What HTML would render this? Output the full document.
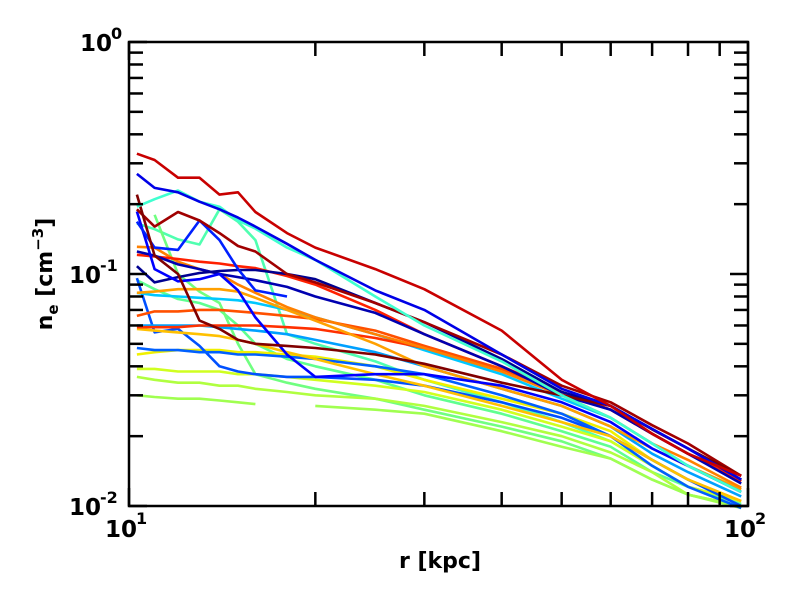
<!DOCTYPE html>
<html><head><meta charset="utf-8"><style>
body{margin:0;background:#fff;}
svg{display:block;font-family:"DejaVu Sans","Liberation Sans",sans-serif;font-weight:bold;}
</style></head><body>
<svg id="chart" width="800" height="600">
<g id="lines"></g>
<g id="axes"></g>
</svg>
<script>
const radii = [10.3,11,12,13,14,15,16,18,20,25,30,40,50,60,70,80,97.5];
const seriesNames = ["l1","l2","l3","l4","l5","l6","l7","l8","l9","l10","l11","l12","l13","l14","l15","l16","l17","l18","l19","l20","l21a","l21b","l22","l23","l24","l25","l26"];
const seriesColors = ["#c80000","#0000e6","#40ffd0","#800000","#a00000","#0020ff","#0000ff","#000090","#0000b0","#ff2000","#ff8000","#ffa000","#ff5000","#ff3000","#00a0ff","#00c8ff","#ffc000","#0060ff","#0050ff","#f0f000","#a0ff50","#a0ff50","#d0ff20","#b0ff40","#70ff80","#50ffb0","#60ff90"];
const s1 = [0.33,0.31,0.26,0.26,0.22,0.225,0.185,0.15,0.13,0.105,0.086,0.057,0.035,0.027,0.0205,0.0168,0.0135];
const s2 = [0.27,0.235,0.225,0.205,0.19,0.175,0.16,0.135,0.115,0.085,0.07,0.045,0.032,0.027,0.0215,0.0177,0.013];
const s3 = [0.195,0.21,0.229,0.205,0.195,0.17,0.157,0.13,0.115,0.08,0.06,0.042,0.03,0.024,0.0186,0.0149,0.0115];
const s4 = [0.22,0.12,0.1,0.063,0.058,0.052,0.05,0.049,0.048,0.045,0.041,0.034,0.03,0.027,0.0214,0.0177,0.0135];
const s5 = [0.19,0.16,0.185,0.17,0.15,0.132,0.125,0.1,0.092,0.075,0.062,0.045,0.033,0.028,0.0223,0.0186,0.0135];
const s6 = [0.168,0.13,0.127,0.17,0.14,0.105,0.085,0.08,null,null,null,null,null,null,null,null,null];
const s7 = [0.186,0.105,0.093,0.095,0.1,0.085,0.065,0.045,0.036,0.037,0.037,0.033,0.028,0.023,0.0177,0.0149,0.0115];
const s8 = [0.108,0.092,0.097,0.101,0.103,0.104,0.104,0.1,0.095,0.075,0.062,0.043,0.031,0.027,0.0214,0.0177,0.013];
const s9 = [0.125,0.12,0.11,0.105,0.1,0.097,0.094,0.088,0.08,0.068,0.055,0.04,0.03,0.026,0.0205,0.0168,0.0125];
const s10 = [0.121,0.119,0.116,0.113,0.111,0.108,0.106,0.098,0.09,0.07,0.055,0.04,0.031,0.026,0.0205,0.0168,0.0128];
const s11 = [0.131,0.13,0.113,0.105,0.1,0.09,0.083,0.072,0.065,0.055,0.048,0.038,0.03,0.024,0.0186,0.0158,0.012];
const s12 = [0.083,0.084,0.086,0.086,0.086,0.084,0.079,0.07,0.063,0.05,0.04,0.032,0.027,0.022,0.0177,0.0149,0.0118];
const s13 = [0.066,0.069,0.069,0.07,0.07,0.069,0.068,0.066,0.064,0.057,0.049,0.039,0.031,0.026,0.0205,0.0168,0.0128];
const s14 = [0.059,0.059,0.059,0.06,0.06,0.06,0.06,0.059,0.058,0.053,0.048,0.039,0.031,0.026,0.0205,0.0168,0.0128];
const s15 = [0.06,0.06,0.06,0.06,0.059,0.058,0.057,0.055,0.052,0.046,0.04,0.032,0.027,0.022,0.0168,0.014,0.011];
const s16 = [0.083,0.081,0.08,0.079,0.078,0.077,0.075,0.07,0.065,0.055,0.047,0.037,0.029,0.024,0.0186,0.0149,0.0115];
const s17 = [0.058,0.057,0.056,0.055,0.054,0.052,0.05,0.046,0.043,0.037,0.033,0.027,0.023,0.02,0.0158,0.013,0.0105];
const s18 = [0.048,0.047,0.047,0.046,0.046,0.045,0.045,0.044,0.043,0.04,0.037,0.03,0.025,0.02,0.0149,0.0121,0.0098];
const s19 = [0.096,0.056,0.058,0.049,0.04,0.038,0.037,0.036,0.036,0.035,0.033,0.028,0.024,0.02,0.0158,0.013,0.01];
const s20 = [0.045,0.046,0.047,0.047,0.047,0.046,0.046,0.045,0.044,0.04,0.035,0.029,0.025,0.021,0.0158,0.013,0.0105];
const s21a = [0.03,0.0295,0.029,0.029,0.0285,0.028,0.0275,null,null,null,null,null,null,null,null,null,null];
const s21b = [null,null,null,null,null,null,null,null,0.027,0.026,0.025,0.021,0.018,0.016,0.013,0.0112,0.0098];
const s22 = [0.039,0.039,0.038,0.038,0.038,0.037,0.037,0.036,0.035,0.033,0.031,0.026,0.022,0.019,0.0149,0.0121,0.0105];
const s23 = [0.036,0.035,0.034,0.034,0.033,0.033,0.032,0.031,0.03,0.029,0.027,0.023,0.02,0.017,0.014,0.0112,0.01];
const s24 = [null,0.18,0.1,0.084,0.075,0.05,0.037,0.034,0.032,0.029,0.026,0.022,0.019,0.016,0.013,0.0112,0.01];
const s25 = [0.165,0.156,0.141,0.134,0.19,0.168,0.14,0.055,0.05,0.042,0.035,0.028,0.023,0.019,0.0149,0.0121,0.0105];
const s26 = [0.094,0.086,0.078,0.075,0.07,0.06,0.05,0.043,0.04,0.035,0.03,0.025,0.021,0.018,0.014,0.0121,0.0102];
const seriesValues = [s1,s2,s3,s4,s5,s6,s7,s8,s9,s10,s11,s12,s13,s14,s15,s16,s17,s18,s19,s20,s21a,s21b,s22,s23,s24,s25,s26];
const xTickLabels = ["1","2"];
const yTickLabels = ["-2","-1","0"];

const L=129,R=748,T=42,B=506;
function xs(r){return L+(R-L)*Math.log10(r/10);}
function ys(n){return T+(B-T)*(-Math.log10(n))/2;}
const NS="http://www.w3.org/2000/svg";
const lines=document.getElementById('lines');
const axes=document.getElementById('axes');
function mk(tag,attrs,parent){const e=document.createElementNS(NS,tag);for(const k in attrs)e.setAttribute(k,attrs[k]);parent.appendChild(e);return e;}

for(let i=seriesValues.length-1;i>=0;i--){
  const vals=seriesValues[i];let d="";let pen=false;
  vals.forEach((v,j)=>{if(v==null){pen=false;return;}d+=(pen?"L":"M")+xs(radii[j]).toFixed(1)+","+ys(v).toFixed(1);pen=true;});
  const p=mk('path',{d:d,fill:'none',stroke:seriesColors[i],'stroke-width':2.6,'stroke-linejoin':'round'},lines);
  
  
}
const fr=mk('rect',{x:L,y:T,width:R-L,height:B-T,fill:'none',stroke:'#000','stroke-width':2.5},axes);


for(let dec=1;dec<=2;dec++){for(let m=1;m<=9;m++){const r=m*Math.pow(10,dec);if(r>100)break;
  const x=xs(r);const len=(m===1)?18:14;
  const t1=mk('line',{x1:x,x2:x,y1:B,y2:B-len,stroke:'#000','stroke-width':2.5},axes);
  
  
  const t2=mk('line',{x1:x,x2:x,y1:T,y2:T+len,stroke:'#000','stroke-width':2.5},axes);
  
  
}}
for(let e=-2;e<=0;e++){for(let m=1;m<=9;m++){const n=m*Math.pow(10,e);if(n>1)break;
  const y=ys(n);const len=(m===1)?18:14;
  const t1=mk('line',{x1:L,x2:L+len,y1:y,y2:y,stroke:'#000','stroke-width':2.5},axes);
  
  
  const t2=mk('line',{x1:R,x2:R-len,y1:y,y2:y,stroke:'#000','stroke-width':2.5},axes);
  
  
}}
xTickLabels.forEach((lab,i)=>{const x=xs(Math.pow(10,i+1));
  const t=mk('text',{x:x-8,y:537,'font-size':23,'text-anchor':'middle'},axes);
  t.textContent='10';
  
  
  const s=mk('text',{x:x+7,y:524,'font-size':16,'text-anchor':'start'},axes);
  s.textContent=lab;
  
  
});
yTickLabels.forEach((lab)=>{const y=ys(Math.pow(10,Number(lab)));
  const off=lab.length>1?23:12;
  const t=mk('text',{x:L-5-off,y:y+9,'font-size':23,'text-anchor':'end'},axes);
  t.textContent='10';
  
  
  const s=mk('text',{x:L-6-off,y:y-3,'font-size':16,'text-anchor':'start'},axes);
  s.textContent=lab;
  
  
});
const xl=mk('text',{x:440,y:568,'font-size':22,'text-anchor':'middle'},axes);
xl.textContent='r [kpc]';


const yl=mk('text',{x:0,y:0,'font-size':22,'text-anchor':'middle',transform:'translate(52,274) rotate(-90)'},axes);
yl.innerHTML='n<tspan font-size="15" dy="6">e</tspan><tspan dy="-6"> [cm</tspan><tspan font-size="15" dy="-9">−3</tspan><tspan dy="9">]</tspan>';


</script>
</body></html>
